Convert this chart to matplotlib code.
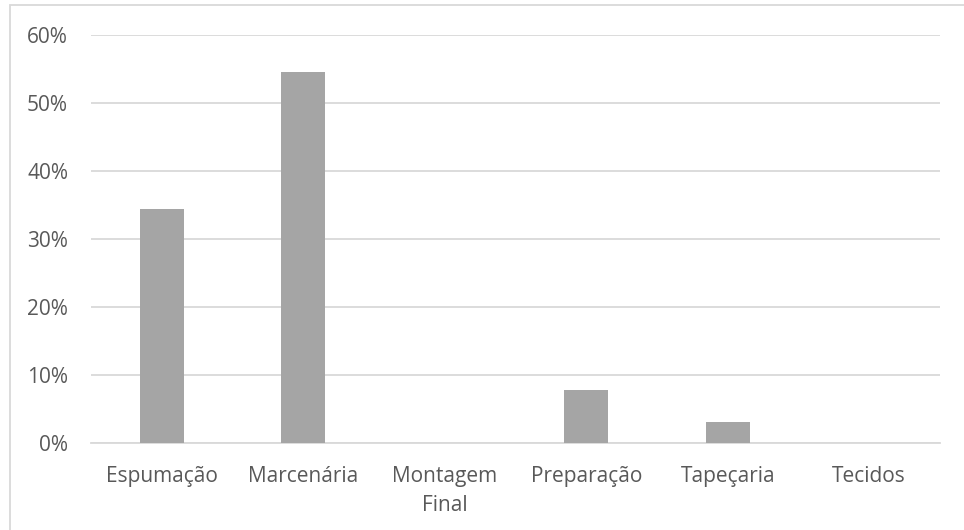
import matplotlib.pyplot as plt
from matplotlib.patches import Rectangle
from matplotlib.ticker import FuncFormatter

# Share of each sector (%)
setores = ['Espumação', 'Marcenária', 'Montagem\nFinal', 'Preparação', 'Tapeçaria', 'Tecidos']
percentuais = [34.5, 54.6, 0.0, 7.8, 3.1, 0.0]

plt.rcParams['font.family'] = ['Open Sans', 'DejaVu Sans']

fig = plt.figure(figsize=(9.64, 5.30), dpi=100)
ax = fig.add_axes([91/964, 1 - 443.3/530, (940 - 91)/964, (443.3 - 35)/530])

# light frame around the chart
fig.patches.append(Rectangle((9.5/964, -0.1), 1.2, 1.1 - 5.5/530,
                             transform=fig.transFigure, fill=False,
                             edgecolor='#d9d9d9', linewidth=1.3))

ax.bar(range(len(setores)), percentuais, width=0.31, color='#a5a5a5', zorder=3)

ax.set_xlim(-0.5, len(setores) - 0.5)
ax.set_ylim(0, 60)
ax.set_yticks(range(0, 61, 10))
ax.yaxis.set_major_formatter(FuncFormatter(lambda v, p: f'{v:.0f}%'))
ax.set_xticks(range(len(setores)))
ax.set_xticklabels(setores, linespacing=1.5)

ax.grid(axis='y', color='#d9d9d9', linewidth=1.3, zorder=0)
for s in ['top', 'right', 'left']:
    ax.spines[s].set_visible(False)
ax.spines['bottom'].set_color('#d9d9d9')
ax.spines['bottom'].set_linewidth(1.3)

ax.tick_params(axis='both', length=0, labelsize=15, labelcolor='#595959')
ax.tick_params(axis='y', pad=16.5)
ax.tick_params(axis='x', pad=16.5)

fig.savefig('out.png', dpi=100)
